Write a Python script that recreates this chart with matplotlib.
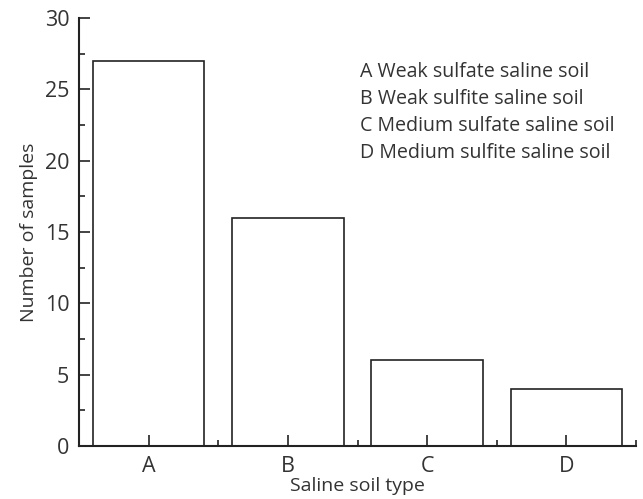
import numpy as np
import matplotlib.pyplot as plt
from matplotlib.ticker import MultipleLocator, FixedLocator

plt.rcParams['font.family'] = ['Open Sans', 'DejaVu Sans']
plt.rcParams['text.color'] = '#333333'
plt.rcParams['axes.labelcolor'] = '#333333'
plt.rcParams['xtick.color'] = '#222222'
plt.rcParams['ytick.color'] = '#222222'
plt.rcParams['xtick.labelcolor'] = '#333333'
plt.rcParams['ytick.labelcolor'] = '#333333'

# data
types = ['A', 'B', 'C', 'D']
counts = [27, 16, 6, 4]
names = ['A Weak sulfate saline soil',
         'B Weak sulfite saline soil',
         'C Medium sulfate saline soil',
         'D Medium sulfite saline soil']

fig = plt.figure(figsize=(6.43, 4.99), dpi=100)
ax = fig.add_axes([0.123, 0.106, 0.866, 0.858])

x = np.arange(len(types))
ax.bar(x, counts, width=0.8, color='white', edgecolor='#222222', lw=1.2)

ax.set_xlim(-0.5, 3.5)
ax.set_ylim(0, 30)
ax.set_xticks(x)
ax.set_xticklabels(types)
ax.xaxis.set_minor_locator(FixedLocator([0.5, 1.5, 2.5, 3.5]))
ax.yaxis.set_major_locator(MultipleLocator(5))
ax.yaxis.set_minor_locator(MultipleLocator(2.5))
ax.tick_params(which='major', direction='in', length=8, width=1.2, labelsize=15.5)
ax.tick_params(axis='y', which='major', pad=7)
ax.tick_params(axis='x', which='major', pad=7)
ax.tick_params(which='minor', direction='in', length=4, width=1.2)

for s in ['top', 'right']:
    ax.spines[s].set_visible(False)
for s in ['left', 'bottom']:
    ax.spines[s].set_linewidth(1.5)
    ax.spines[s].set_color('#222222')

ax.set_xlabel('Saline soil type', fontsize=14, labelpad=0)
ax.set_ylabel('Number of samples', fontsize=14, labelpad=5)

# key text, one line each
for i, name in enumerate(names):
    ax.text(0.505, 0.862 - i * 0.0627, name, transform=ax.transAxes,
            fontsize=14.1, va='baseline', ha='left')

plt.savefig('out.png')
